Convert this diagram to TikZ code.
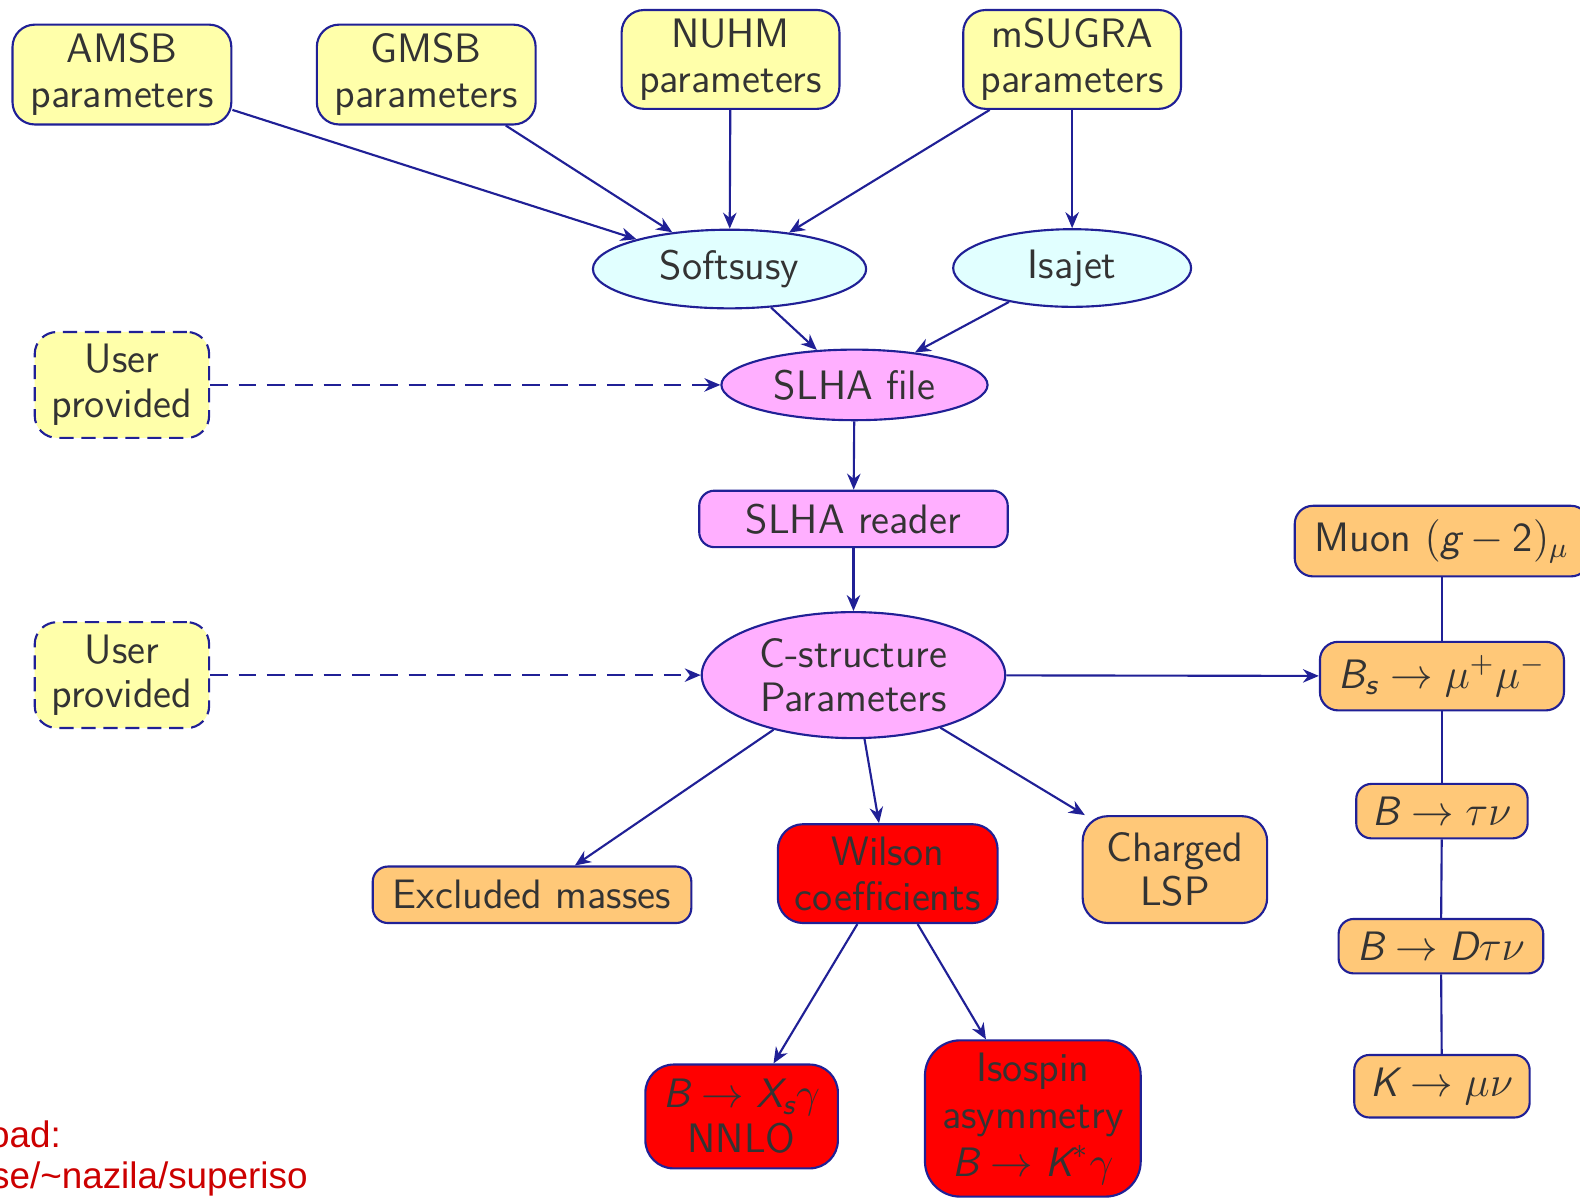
\documentclass[tikz,border=0pt]{standalone}
\usepackage{amsmath,amssymb}
\usepackage{fontspec}
\newfontfamily\linkfont{Liberation Sans}
\usepackage{xcolor}
\usepackage{tikz}
\usetikzlibrary{shapes,shapes.geometric,arrows.meta,positioning}

\definecolor{edgeblue}{RGB}{32,32,150}
\definecolor{paryellow}{RGB}{255,255,170}
\definecolor{toolcyan}{RGB}{225,255,255}
\definecolor{slhapink}{RGB}{255,175,255}
\definecolor{obsorange}{RGB}{255,200,120}
\definecolor{linkred}{RGB}{204,0,0}

% sans italic letters inside formulas
\newcommand{\sv}[1]{\text{\sffamily\itshape #1}}
\newcommand{\sn}[1]{\text{\sffamily #1}}

\begin{document}
\begin{tikzpicture}[
    x=0.01cm, y=-0.01cm,
    font=\sffamily\fontsize{11.6}{12.6}\selectfont,
    box/.style={rectangle, rounded corners=0.22cm, draw=edgeblue, line width=0.6pt, align=center, inner sep=1pt, text=black!80},
    blob/.style={ellipse, draw=edgeblue, line width=0.6pt, align=center, inner sep=0pt, text=black!80},
    userbox/.style={box, fill=paryellow, dash pattern=on 4pt off 2.2pt},
    arrow/.style={-{Stealth[length=4.5pt,width=3.8pt]}, draw=edgeblue, line width=0.6pt},
    dasharrow/.style={arrow, dash pattern=on 5pt off 3pt},
    link/.style={draw=edgeblue, line width=0.6pt}
]
    \useasboundingbox (0,0) rectangle (1568,1189);

    % model inputs
    \node[box, fill=paryellow, minimum width=2.17cm, minimum height=0.99cm] (amsb) at (121,74) {AMSB\\parameters};
    \node[box, fill=paryellow, minimum width=2.17cm, minimum height=0.99cm] (gmsb) at (423,74) {GMSB\\parameters};
    \node[box, fill=paryellow, minimum width=2.16cm, minimum height=0.98cm] (nuhm) at (725,59) {NUHM\\parameters};
    \node[box, fill=paryellow, minimum width=2.16cm, minimum height=0.98cm] (msugra) at (1064,59) {mSUGRA\\parameters};

    % spectrum generators
    \node[blob, fill=toolcyan, minimum width=2.71cm, minimum height=0.78cm] (softsusy) at (724,267) {Softsusy};
    \node[blob, fill=toolcyan, minimum width=2.36cm, minimum height=0.77cm] (isajet) at (1064,266) {Isajet};

    \node[userbox, minimum width=1.73cm, minimum height=1.05cm] (user1) at (121,382) {User\\provided};
    \node[blob, fill=slhapink, minimum width=2.64cm, minimum height=0.70cm] (slhafile) at (848,382) {SLHA file};
    \node[box, fill=slhapink, rounded corners=0.15cm, minimum width=3.06cm, minimum height=0.56cm] (slhareader) at (847,515) {SLHA reader};
    \node[userbox, minimum width=1.73cm, minimum height=1.05cm] (user2) at (121,670) {User\\provided};
    \node[blob, fill=slhapink, minimum width=3.01cm, minimum height=1.25cm] (cstruct) at (847,670) {C-structure\\Parameters};

    % observables
    \node[box, fill=obsorange, rounded corners=0.18cm, minimum width=2.92cm, minimum height=0.70cm] (muon) at (1431,537) {Muon $(\sv{g}-\sn{2})_\mu$};
    \node[box, fill=obsorange, rounded corners=0.18cm, minimum width=2.42cm, minimum height=0.68cm] (bsmumu) at (1431,671) {$\sv{B}_{\sv{s}}\to\mu^+\mu^-$};
    \node[box, fill=obsorange, rounded corners=0.15cm, minimum width=1.70cm, minimum height=0.54cm] (btaunu) at (1431,805) {$\sv{B}\to\tau\nu$};
    \node[box, fill=obsorange, rounded corners=0.15cm, minimum width=2.03cm, minimum height=0.54cm] (bdtaunu) at (1430,939) {$\sv{B}\to \sv{D}\tau\nu$};
    \node[box, fill=obsorange, rounded corners=0.15cm, minimum width=1.74cm, minimum height=0.62cm] (kmunu) at (1431,1078) {$\sv{K}\to\mu\nu$};

    \node[box, fill=obsorange, rounded corners=0.15cm, minimum width=3.16cm, minimum height=0.56cm] (excluded) at (528,888) {Excluded masses};
    \node[box, fill=red, rounded corners=0.25cm, minimum width=2.18cm, minimum height=0.98cm] (wilson) at (881,867) {Wilson\\coefficients};
    \node[box, fill=obsorange, rounded corners=0.25cm, minimum width=1.83cm, minimum height=1.06cm] (lsp) at (1166,863) {Charged\\LSP};
    \node[box, fill=red, rounded corners=0.28cm, minimum width=1.91cm, minimum height=1.03cm] (bxsgamma) at (736,1108) {$\sv{B}\to \sv{X}_{\sv{s}}\gamma$\\NNLO};
    \node[box, fill=red, rounded corners=0.35cm, minimum width=2.14cm, minimum height=1.55cm, font=\sffamily\fontsize{11.6}{13.4}\selectfont] (isospin) at (1025,1110) {Isospin\\asymmetry\\$\sv{B}\to \sv{K}^*\gamma$};

    \node[anchor=base east, inner sep=0pt, text=linkred, font=\linkfont\fontsize{10.4}{12}\selectfont] (dlhead) at (61,1139) {oad:};
    \node[anchor=base east, inner sep=0pt, text=linkred, font=\linkfont\fontsize{10.4}{12}\selectfont] (dlurl) at (306,1179) {se/\textasciitilde nazila/superiso};

    \draw[arrow] (amsb) -- (softsusy);
    \draw[arrow] (gmsb) -- (softsusy);
    \draw[arrow] (nuhm) -- (softsusy);
    \draw[arrow] (msugra) -- (softsusy);
    \draw[arrow] (msugra) -- (isajet);
    \draw[arrow] (softsusy) -- (slhafile);
    \draw[arrow] (isajet) -- (slhafile);
    \draw[dasharrow] (user1) -- (slhafile);
    \draw[arrow] (slhafile) -- (slhareader);
    \draw[arrow] (slhareader) -- (cstruct);
    \draw[dasharrow] (user2) -- (cstruct);
    \draw[arrow] (cstruct) -- (bsmumu);
    \draw[arrow] (cstruct) -- (excluded);
    \draw[arrow] (cstruct) -- (wilson);
    \draw[arrow] (cstruct) -- (lsp);
    \draw[arrow] (wilson) -- (bxsgamma);
    \draw[arrow] (wilson) -- (isospin);

    \draw[link] (muon) -- (bsmumu);
    \draw[link] (bsmumu) -- (btaunu);
    \draw[link] (btaunu) -- (bdtaunu);
    \draw[link] (bdtaunu) -- (kmunu);
\end{tikzpicture}
\end{document}
